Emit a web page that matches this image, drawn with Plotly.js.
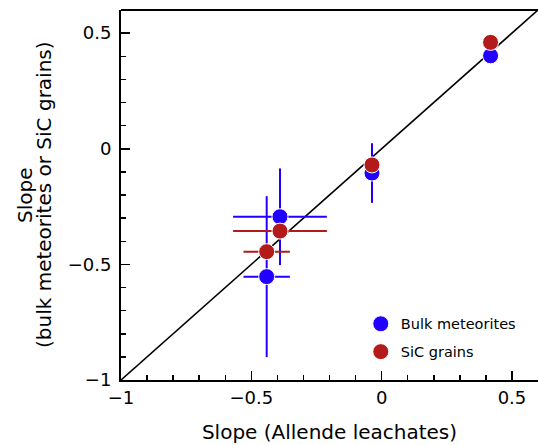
<!DOCTYPE html>
<html>
<head>
<meta charset="utf-8">
<script src="https://cdn.plot.ly/plotly-3.0.1.min.js"></script>
<style>html,body{margin:0;padding:0;background:#fff;}#chart{width:538px;height:445px;}</style>
</head>
<body>
<div id="chart"></div>
<script>
// 1:1 reference line
const oneToOneX = [-1, 0.6];
const oneToOneY = [-1, 0.6];

// Bulk meteorites
const bulkX = [0.418, -0.037, -0.39, -0.441];
const bulkY = [0.402, -0.105, -0.294, -0.553];
const bulkXErr = [0, 0, 0.18, 0.089];
const bulkYErr = [0, 0.129, 0.209, 0.348];

// SiC grains
const sicX = [0.418, -0.037, -0.39, -0.441];
const sicY = [0.46, -0.07, -0.356, -0.445];
const sicXErr = [0, 0, 0.18, 0.089];
const sicYErr = [0, 0, 0, 0];

const yTitleLines = ['Slope', '(bulk meteorites or SiC grains)'];

const blue = '#2200ff';
const red = '#b31b1b';
const font = 'DejaVu Sans, sans-serif';

const traces = [
  {x: oneToOneX, y: oneToOneY, mode: 'lines', line: {color: '#000', width: 1.6}, showlegend: false, hoverinfo: 'skip'},
  {x: bulkX, y: bulkY, mode: 'markers', name: 'Bulk meteorites', legendgroup: 'a',
   marker: {color: blue, size: 16, line: {color: '#fff', width: 1}},
   error_x: {type: 'data', array: bulkXErr, color: blue, thickness: 2, width: 0},
   error_y: {type: 'data', array: bulkYErr, color: blue, thickness: 2, width: 0}},
  {x: sicX, y: sicY, mode: 'markers', name: 'SiC grains', legendgroup: 'b',
   marker: {color: red, size: 16, line: {color: '#fff', width: 1}},
   error_x: {type: 'data', array: sicXErr, color: red, thickness: 2, width: 0},
   error_y: {type: 'data', array: sicYErr, color: red, thickness: 2, width: 0}}
];

const axisCommon = {
  showgrid: false, zeroline: false, showline: true, linecolor: '#000', linewidth: 2,
  ticks: 'inside', ticklen: 9, tickwidth: 1.5, tickcolor: '#000',
  dtick: 0.5, tick0: 0, tickfont: {family: font, size: 18, color: '#000'},
  minor: {dtick: 0.1, tick0: 0, ticks: 'inside', ticklen: 5, tickwidth: 1.5, tickcolor: '#000', showgrid: false}
};

const layout = {
  width: 538, height: 445,
  margin: {l: 121, r: 0, t: 10, b: 65},
  paper_bgcolor: '#fff', plot_bgcolor: '#fff',
  font: {family: font, color: '#000'},
  xaxis: Object.assign({}, axisCommon, {range: [-1, 0.6], ticklabelstandoff: 0,
    title: {text: 'Slope (Allende leachates)', font: {family: font, size: 20, color: '#000'}, standoff: 18}}),
  yaxis: Object.assign({}, axisCommon, {range: [-1, 0.6], ticklabelstandoff: 4}),
  annotations: [
    {text: yTitleLines[0], xref: 'paper', yref: 'paper', x: -(121 - 25) / 417, y: 0.5, xanchor: 'center', yanchor: 'middle',
     textangle: -90, showarrow: false, font: {family: font, size: 20, color: '#000'}},
    {text: yTitleLines[1], xref: 'paper', yref: 'paper', x: -(121 - 44) / 417, y: 0.5, xanchor: 'center', yanchor: 'middle',
     textangle: -90, showarrow: false, font: {family: font, size: 20, color: '#000'}}
  ],
  showlegend: true,
  legend: {x: 0.575, y: 0.195, xanchor: 'left', yanchor: 'top', bgcolor: 'rgba(0,0,0,0)',
    font: {family: font, size: 14.5, color: '#000'}, traceorder: 'grouped', tracegroupgap: 6},
  shapes: [{type: 'line', xref: 'paper', yref: 'paper', x0: 0, x1: 1, y0: 1, y1: 1, line: {color: '#000', width: 2}}]
};

Plotly.newPlot('chart', traces, layout, {displayModeBar: false, staticPlot: true});
</script>
</body>
</html>
